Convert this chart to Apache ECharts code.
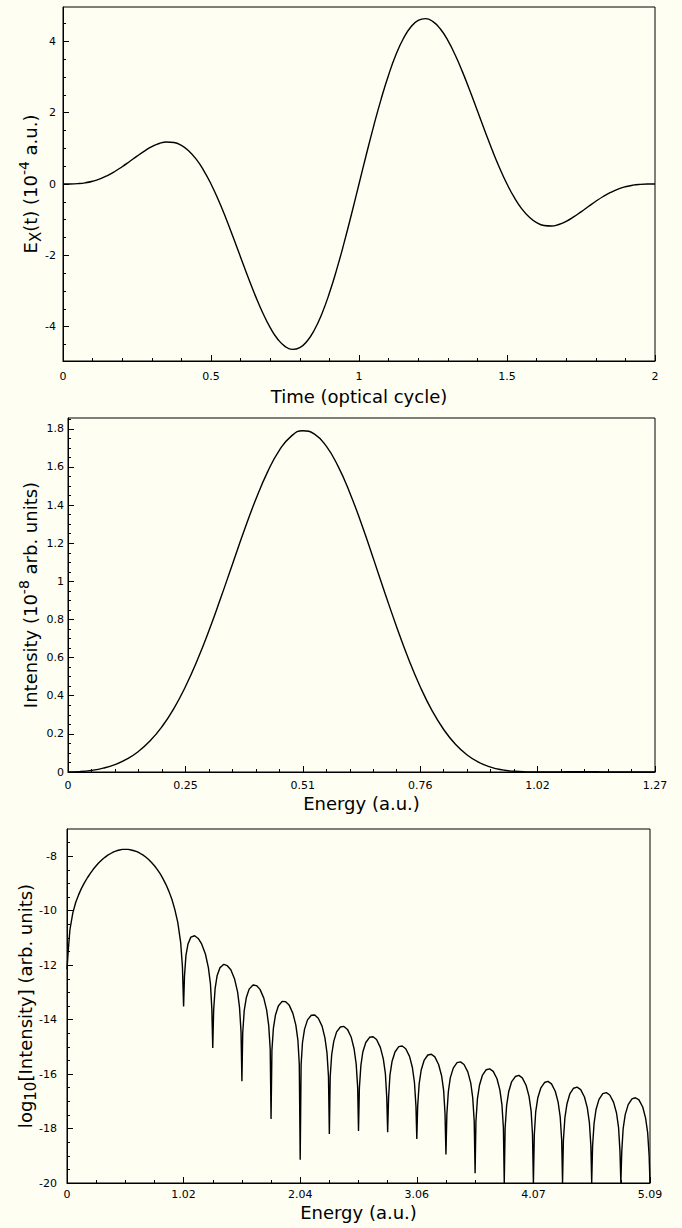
<!DOCTYPE html>
<html>
<head>
<meta charset="utf-8">
<title>Pulse field and spectrum</title>
<script src="https://cdn.jsdelivr.net/npm/echarts@6/dist/echarts.min.js"></script>
<style>
  html, body { margin: 0; padding: 0; background: #fefef3; }
  #chart { width: 682px; height: 1228px; }
</style>
</head>
<body>
<div id="chart"></div>
<script>
// --- top panel: field E_x(t), units 1e-4 a.u. (sampled every 0.025 cycle)
const fieldTime = [
  0, 0.025, 0.05, 0.075, 0.1, 0.125, 0.15, 0.175, 0.2, 0.225, 0.25, 0.275, 0.3, 0.325, 0.35, 0.375, 0.4, 0.425, 0.45, 0.475,
  0.5, 0.525, 0.55, 0.575, 0.6, 0.625, 0.65, 0.675, 0.7, 0.725, 0.75, 0.775, 0.8, 0.825, 0.85, 0.875, 0.9, 0.925, 0.95, 0.975,
  1, 1.025, 1.05, 1.075, 1.1, 1.125, 1.15, 1.175, 1.2, 1.225, 1.25, 1.275, 1.3, 1.325, 1.35, 1.375, 1.4, 1.425, 1.45, 1.475,
  1.5, 1.525, 1.55, 1.575, 1.6, 1.625, 1.65, 1.675, 1.7, 1.725, 1.75, 1.775, 1.8, 1.825, 1.85, 1.875, 1.9, 1.925, 1.95, 1.975, 2
];
const fieldValue = [
  0, 0.001, 0.01, 0.033, 0.077, 0.143, 0.235, 0.35, 0.484, 0.631, 0.781, 0.923, 1.045, 1.134, 1.177, 1.163, 1.082, 0.927, 0.695, 0.384,
  0, -0.45, -0.952, -1.492, -2.051, -2.606, -3.135, -3.615, -4.024, -4.342, -4.549, -4.634, -4.585, -4.399, -4.077, -3.626, -3.056, -2.386, -1.637, -0.833,
  0, 0.833, 1.637, 2.386, 3.056, 3.626, 4.077, 4.399, 4.585, 4.634, 4.549, 4.342, 4.024, 3.615, 3.135, 2.606, 2.051, 1.492, 0.952, 0.45,
  0, -0.384, -0.695, -0.927, -1.082, -1.163, -1.177, -1.134, -1.045, -0.923, -0.781, -0.631, -0.484, -0.35, -0.235, -0.143, -0.077, -0.033, -0.01, -0.001, 0
];

// --- middle panel: spectrum, units 1e-8 arb.
const spectrumEnergy = [
  0, 0.0255, 0.0509, 0.0764, 0.1019, 0.1273, 0.1528, 0.1782, 0.2037, 0.2292, 0.2546, 0.2801, 0.3056, 0.331, 0.3565, 0.3819,
  0.4074, 0.4329, 0.4583, 0.4838, 0.5093, 0.5347, 0.5602, 0.5856, 0.6111, 0.6366, 0.662, 0.6875, 0.713, 0.7384, 0.7639, 0.7893,
  0.8148, 0.8403, 0.8657, 0.8912, 0.9167, 0.9421, 0.9676, 0.993, 1.0185, 1.044, 1.0694, 1.0949, 1.1204, 1.1458, 1.1713, 1.1967,
  1.2222, 1.2477, 1.2731
];
const spectrumValue = [
  0, 0.002, 0.0084, 0.0202, 0.0391, 0.0674, 0.1079, 0.1635, 0.2373, 0.3316, 0.4475, 0.5847, 0.7408, 0.9111, 1.0889, 1.2653,
  1.4305, 1.5743, 1.687, 1.7608, 1.79, 1.7725, 1.7091, 1.6043, 1.4652, 1.3009, 1.1218, 0.9381, 0.7596, 0.5941, 0.4475, 0.3234,
  0.223, 0.1457, 0.0892, 0.0504, 0.0256, 0.0111, 0.0037, 0.0007, 0, 0.0003, 0.0008, 0.0011, 0.0011, 0.001, 0.0007, 0.0004,
  0.0002, 0, 0
];

// --- bottom panel: log10 of the spectrum
const mainLobeEnergy = [
  0, 0.0102, 0.0255, 0.0509, 0.0764, 0.1019, 0.1273, 0.1528, 0.1782, 0.2037, 0.2292, 0.2546, 0.2801, 0.3056, 0.331, 0.3565,
  0.3819, 0.4074, 0.4329, 0.4583, 0.4838, 0.5093, 0.5347, 0.5602, 0.5856, 0.6111, 0.6366, 0.662, 0.6875, 0.713, 0.7384, 0.7639,
  0.7893, 0.8148, 0.8403, 0.8657, 0.8912, 0.9167, 0.9421, 0.9676, 0.993, 1.0083
];
const mainLobeLog = [
  -12.15, -11.5, -10.7, -10.08, -9.69, -9.41, -9.17, -8.97, -8.79, -8.63, -8.48, -8.35, -8.23, -8.13, -8.04, -7.96,
  -7.9, -7.84, -7.8, -7.77, -7.75, -7.75, -7.75, -7.77, -7.8, -7.83, -7.89, -7.95, -8.03, -8.12, -8.23, -8.35,
  -8.49, -8.65, -8.84, -9.05, -9.3, -9.59, -9.96, -10.43, -11.17, -12.06
];

// side lobes, one row per lobe, each row starts at its dip
const sideLobeEnergy = [
  1.0185, 1.026, 1.039, 1.057, 1.082, 1.115, 1.146, 1.176, 1.209, 1.235, 1.253, 1.265,
  1.2731, 1.281, 1.294, 1.311, 1.337, 1.37, 1.4, 1.431, 1.464, 1.49, 1.507, 1.52,
  1.5278, 1.535, 1.548, 1.566, 1.591, 1.625, 1.655, 1.686, 1.719, 1.744, 1.762, 1.775,
  1.7824, 1.79, 1.803, 1.821, 1.846, 1.879, 1.91, 1.94, 1.973, 1.999, 2.017, 2.029,
  2.037, 2.045, 2.057, 2.075, 2.101, 2.134, 2.164, 2.195, 2.228, 2.253, 2.271, 2.284,
  2.2916, 2.299, 2.312, 2.33, 2.355, 2.388, 2.419, 2.45, 2.483, 2.508, 2.526, 2.539,
  2.5463, 2.554, 2.567, 2.584, 2.61, 2.643, 2.674, 2.704, 2.737, 2.763, 2.781, 2.793,
  2.8009, 2.809, 2.821, 2.839, 2.865, 2.898, 2.928, 2.959, 2.992, 3.017, 3.035, 3.048,
  3.0555, 3.063, 3.076, 3.094, 3.119, 3.152, 3.183, 3.213, 3.246, 3.272, 3.29, 3.302,
  3.3101, 3.318, 3.331, 3.348, 3.374, 3.407, 3.437, 3.468, 3.501, 3.527, 3.544, 3.557,
  3.5648, 3.572, 3.585, 3.603, 3.628, 3.662, 3.692, 3.723, 3.756, 3.781, 3.799, 3.812,
  3.8194, 3.827, 3.84, 3.858, 3.883, 3.916, 3.947, 3.977, 4.01, 4.036, 4.054, 4.066,
  4.074, 4.082, 4.094, 4.112, 4.138, 4.171, 4.201, 4.232, 4.265, 4.29, 4.308, 4.321,
  4.3286, 4.336, 4.349, 4.367, 4.392, 4.425, 4.456, 4.487, 4.52, 4.545, 4.563, 4.576,
  4.5833, 4.591, 4.604, 4.621, 4.647, 4.68, 4.711, 4.741, 4.774, 4.8, 4.818, 4.83,
  4.8379, 4.846, 4.858, 4.876, 4.902, 4.935, 4.965, 4.996, 5.029, 5.054, 5.072, 5.085,
  5.0925
];
const sideLobeLog = [
  -13.52, -12.42, -11.64, -11.22, -10.97, -10.92, -11.02, -11.22, -11.59, -12.09, -12.69, -13.59,
  -15.04, -13.65, -12.85, -12.39, -12.09, -11.97, -12.02, -12.17, -12.51, -12.98, -13.55, -14.44,
  -16.26, -14.48, -13.67, -13.2, -12.88, -12.73, -12.75, -12.89, -13.21, -13.65, -14.22, -15.09,
  -17.65, -15.13, -14.31, -13.83, -13.5, -13.33, -13.34, -13.46, -13.77, -14.2, -14.76, -15.63,
  -19.15, -15.66, -14.84, -14.35, -14.01, -13.84, -13.83, -13.95, -14.24, -14.67, -15.22, -16.09,
  -18.2, -16.11, -15.29, -14.8, -14.45, -14.27, -14.25, -14.36, -14.65, -15.08, -15.63, -16.49,
  -18.09, -16.51, -15.69, -15.19, -14.84, -14.65, -14.63, -14.73, -15.02, -15.44, -15.98, -16.85,
  -18.14, -16.87, -16.04, -15.54, -15.19, -14.99, -14.97, -15.07, -15.35, -15.76, -16.31, -17.17,
  -18.38, -17.19, -16.36, -15.85, -15.5, -15.3, -15.27, -15.37, -15.65, -16.06, -16.6, -17.46,
  -18.95, -17.48, -16.65, -16.14, -15.78, -15.58, -15.55, -15.65, -15.92, -16.33, -16.87, -17.73,
  -19.64, -17.74, -16.91, -16.41, -16.05, -15.84, -15.81, -15.9, -16.17, -16.58, -17.12, -17.98,
  -20, -17.99, -17.16, -16.65, -16.29, -16.09, -16.05, -16.14, -16.41, -16.82, -17.35, -18.21,
  -20, -18.22, -17.39, -16.88, -16.52, -16.31, -16.27, -16.36, -16.63, -17.03, -17.57, -18.43,
  -20, -18.44, -17.61, -17.1, -16.73, -16.52, -16.48, -16.57, -16.84, -17.24, -17.78, -18.63,
  -20, -18.64, -17.81, -17.3, -16.93, -16.72, -16.68, -16.77, -17.03, -17.43, -17.97, -18.82,
  -20, -18.83, -18, -17.49, -17.12, -16.91, -16.87, -16.95, -17.21, -17.62, -18.15, -19.01,
  -20
];

// tick positions for the y axes (major = labelled, minor = short marks)
const fieldMajorTicks = [-4, -2, 0, 2, 4];
const fieldMinorTicks = [-4.5, -3.5, -3, -2.5, -1.5, -1, -0.5, 0.5, 1, 1.5, 2.5, 3, 3.5, 4.5];
const spectrumMajorTicks = [0, 0.2, 0.4, 0.6, 0.8, 1, 1.2, 1.4, 1.6, 1.8];
const logMajorTicks = [-20, -18, -16, -14, -12, -10, -8];

const FONT = 'DejaVu Sans';
const INK = '#000';

const pairs = (xs, ys) => xs.map((x, i) => [x, ys[i]]);

const minorBetween = (majors, step, lo, hi) => {
  const out = [];
  for (let v = lo; v <= hi + 1e-9; v += step) {
    const r = Math.round(v * 1000) / 1000;
    if (!majors.some((m) => Math.abs(m - r) < 1e-6)) out.push(r);
  }
  return out;
};

const titleRich = {
  t: { fontSize: 18, fontFamily: FONT, color: INK, lineHeight: 26 },
  sub: { fontSize: 15, fontFamily: FONT, color: INK, lineHeight: 14, verticalAlign: 'bottom' },
  sup: { fontSize: 14, fontFamily: FONT, color: INK, lineHeight: 14, verticalAlign: 'top' },
};

const twoDecimals = (v) => (v === 0 ? '0' : v.toFixed(2));

const xAxisBase = (gridIndex, extra) => ({
  gridIndex,
  type: 'value',
  nameLocation: 'middle',
  nameTextStyle: { fontSize: 18, fontFamily: FONT, color: INK },
  axisLine: { onZero: false, lineStyle: { color: INK, width: 1 } },
  axisTick: { inside: true, length: 6, lineStyle: { color: INK } },
  splitLine: { show: false },
  ...extra,
});

const yMajor = (gridIndex, min, max, ticks, extra) => ({
  gridIndex,
  type: 'value',
  position: 'left',
  min,
  max,
  nameLocation: 'middle',
  nameRotate: 90,
  nameMoveOverlap: false,
  nameTextStyle: { rich: titleRich },
  axisLine: { show: true, onZero: false, lineStyle: { color: INK, width: 1 } },
  axisTick: { inside: true, length: 6, customValues: ticks, lineStyle: { color: INK } },
  splitLine: { show: false },
  ...extra,
});

const yMinor = (gridIndex, min, max, ticks) => ({
  gridIndex,
  type: 'value',
  position: 'left',
  offset: 0,
  min,
  max,
  axisLine: { show: false, onZero: false },
  axisLabel: { show: false },
  axisTick: { show: true, inside: true, length: 3, customValues: ticks, lineStyle: { color: INK } },
  splitLine: { show: false },
});

const lineSeries = (xi, yi, data, smooth) => ({
  type: 'line',
  xAxisIndex: xi,
  yAxisIndex: yi,
  data,
  smooth,
  showSymbol: false,
  symbol: 'none',
  clip: true,
  lineStyle: { color: INK, width: 1.4 },
});

const gridBox = { show: true, borderColor: INK, borderWidth: 1, backgroundColor: 'transparent' };

const chart = echarts.init(document.getElementById('chart'), null, { renderer: 'svg' });

const option = {
  animation: false,
  backgroundColor: '#fefef3',
  grid: [
    { ...gridBox, left: 63, top: 7, width: 592, height: 354 },
    { ...gridBox, left: 68, top: 418, width: 587, height: 354 },
    { ...gridBox, left: 67, top: 829, width: 583, height: 354 },
  ],
  xAxis: [
    xAxisBase(0, {
      min: 0, max: 2, interval: 0.5,
      name: 'Time (optical cycle)', nameGap: 26,
      minorTick: { show: true, splitNumber: 5, length: 3, lineStyle: { color: INK } },
      axisLabel: { fontSize: 11, fontFamily: FONT, color: INK, margin: 10 },
    }),
    xAxisBase(1, {
      min: 0, max: 1.273125, interval: 0.254625,
      name: 'Energy (a.u.)', nameGap: 22,
      minorTick: { show: true, splitNumber: 5, length: 3, lineStyle: { color: INK } },
      axisLabel: { fontSize: 11, fontFamily: FONT, color: INK, margin: 8, formatter: twoDecimals },
    }),
    xAxisBase(2, {
      min: 0, max: 5.0925, interval: 1.0185,
      name: 'Energy (a.u.)', nameGap: 20,
      minorTick: { show: true, splitNumber: 4, length: 3, lineStyle: { color: INK } },
      axisLabel: { fontSize: 11, fontFamily: FONT, color: INK, margin: 6, formatter: twoDecimals },
    }),
  ],
  yAxis: [
    yMajor(0, -4.96, 4.96, fieldMajorTicks, {
      name: '{t|E}{sub|X}{t|(t) (10}{sup|-4}{t| a.u.)}', nameGap: 20,
      axisLabel: { fontSize: 11, fontFamily: FONT, color: INK, margin: 7, customValues: fieldMajorTicks },
    }),
    yMinor(0, -4.96, 4.96, fieldMinorTicks),
    yMajor(1, 0, 1.857, spectrumMajorTicks, {
      name: '{t|Intensity (10}{sup|-8}{t| arb. units)}', nameGap: 25,
      axisLabel: { fontSize: 11, fontFamily: FONT, color: INK, margin: 4, customValues: spectrumMajorTicks },
    }),
    yMinor(1, 0, 1.857, minorBetween(spectrumMajorTicks, 0.05, 0.05, 1.85)),
    yMajor(2, -20, -7, logMajorTicks, {
      name: '{t|log}{sub|10}{t|[Intensity] (arb. units)}', nameGap: 29,
      axisLabel: { fontSize: 11, fontFamily: FONT, color: INK, margin: 10, customValues: logMajorTicks },
    }),
    yMinor(2, -20, -7, minorBetween(logMajorTicks, 0.5, -19.5, -7.5)),
  ],
  series: [
    lineSeries(0, 0, pairs(fieldTime, fieldValue), true),
    lineSeries(1, 2, pairs(spectrumEnergy, spectrumValue), true),
    lineSeries(2, 4, pairs(mainLobeEnergy, mainLobeLog).concat(pairs(sideLobeEnergy, sideLobeLog)), false),
  ],
};

chart.setOption(option);
</script>
</body>
</html>
